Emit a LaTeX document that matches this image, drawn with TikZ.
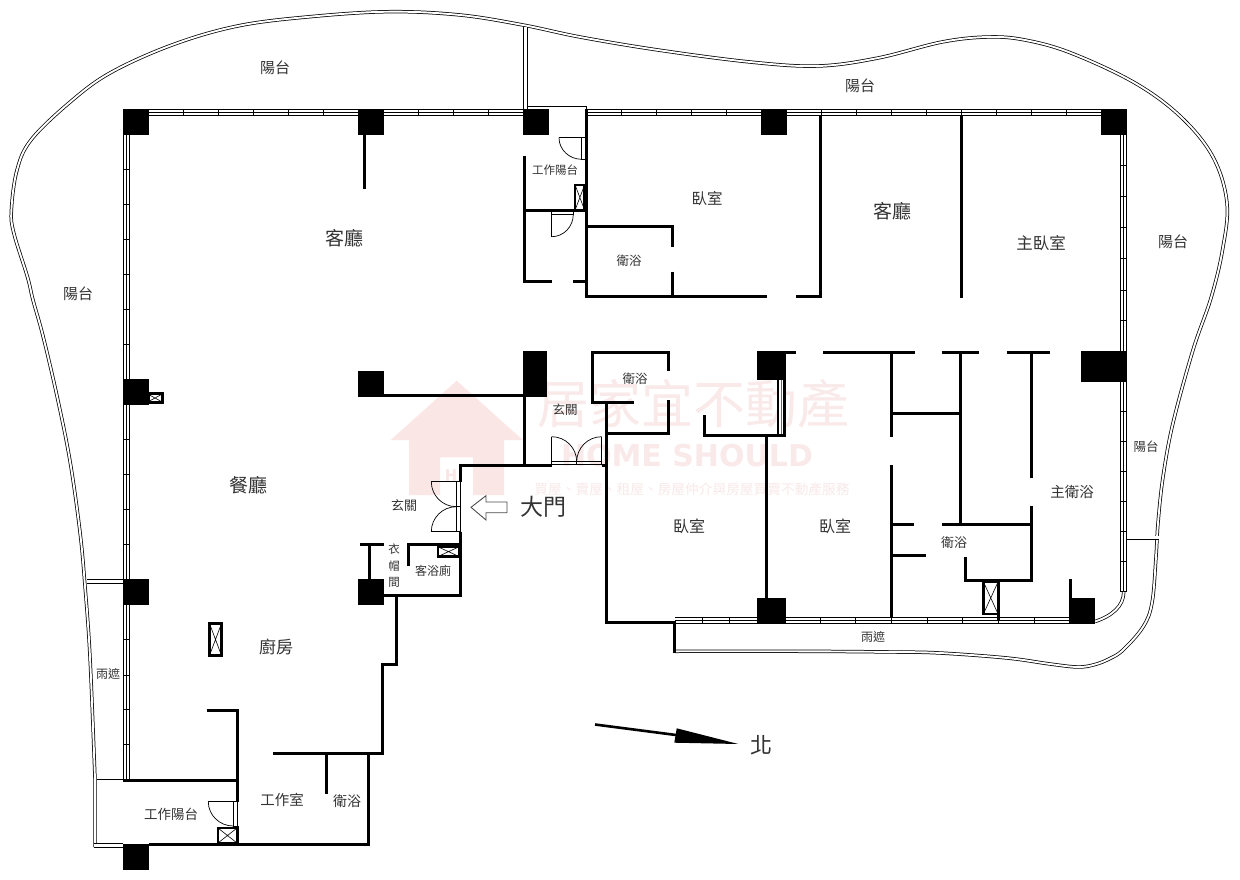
\documentclass[tikz,border=0pt]{standalone}
\usepackage{fontspec}
\setmainfont{Noto Sans CJK TC}
\newfontfamily\latinfont{DejaVu Sans}
\usetikzlibrary{calc}
\definecolor{wm}{HTML}{FBE6E6}
\definecolor{wmt}{HTML}{F9E9E9}
\definecolor{ink}{HTML}{333333}
\tikzset{
  wall/.style={line width=3pt,line cap=butt,line join=miter,black},
  thin/.style={line width=.8pt,black},
  rail/.style={preaction={draw=black,line width=3.4pt},draw=white,line width=1.9pt},
  railwide/.style={preaction={draw=black,line width=4.4pt},draw=white,line width=3pt},
  lab/.style={text=ink,inner sep=0pt,align=center},
  col/.style={fill=black,draw=none},
  shaft/.style={draw=black,line width=2.4pt,fill=white},
  doorline/.style={line width=.7pt,black},
}
\newcommand{\hwin}[3]{\draw[thin] (#1,#3)--(#2,#3) (#1,#3+3)--(#2,#3+3) (#1,#3+6)--(#2,#3+6);}
\newcommand{\vwin}[3]{\draw[thin] (#3,#1)--(#3,#2) (#3+3,#1)--(#3+3,#2) (#3+6,#1)--(#3+6,#2);}
\newcommand{\doorarc}[3]{\draw[doorline] (#1) .. controls ($(#1)!0.552!(#3)$) and ($(#2)!0.552!(#3)$) .. (#2);}
\begin{document}
\begin{tikzpicture}[x=1pt,y=-1pt]
\useasboundingbox (0,0) rectangle (1240,880);
\fill[white] (0,0) rectangle (1240,880);
% watermark
\fill[wm] (456.7,380.7)--(522.7,440)--(504,440)--(504,495)--(473,495)--(473,457.3)--(440,457.3)--(440,495)--(409,495)--(409,440)--(390.7,440)--cycle;
\node[text=wm,inner sep=0pt,font=\bfseries\fontsize{16}{16}\selectfont] (wmh) at (451,476) {H};
\node[text=wmt,inner sep=0pt,font=\fontsize{52}{52}\selectfont] (wm1) at (693,404) {居家宜不動產};
\node[text=wmt,inner sep=0pt,font=\latinfont\bfseries\fontsize{30}{30}\selectfont] (wm2) at (687,456) {HOME SHOULD};
\node[text=wmt,inner sep=0pt,font=\fontsize{13.7}{14}\selectfont] (wm3) at (692,489) {買屋、賣屋、租屋、房屋仲介與房屋買賣不動產服務};
% outer balcony rail
\draw[rail,line join=round] (95,847)--(95,779) plot[smooth,tension=.6] coordinates {(95,779)(90,657)(85,586)(80,532)(70,461)(57,396)(43,336)(33,300)(27.5,277)(13.8,233)(11.4,210)(17,170)(31,140)(69,103)(110,73)(172,45)(237.6,26)(310,16.7)(389,11.7)(460,15)(523,25)(580,37)(658,50)(750,62)(818,66)(878,58)(942,42)(988,37)(1025,40)(1071,53)(1135,83)(1181,117)(1213,157)(1227,203)(1222.5,250)(1211,298)(1193,350)(1173,423)(1163,477)(1158,523)(1156,557)(1152,603)(1143,627)(1123,650)(1110,658.5)(1095,664.5)(1078,667)(1050,664)(1007,658)(940,653)(893,652)(800,651.3)(675,651.3)};
% balcony dividers
\draw[railwide] (525.3,27)--(525.3,109);
\draw[thin] (527.5,106.7)--(586,106.7)--(586,110);
\draw[railwide] (87,581.5)--(123,581.5);
\draw[railwide] (97,781)--(123,781);
\draw[railwide] (93.5,845.5)--(123,845.5);
\draw[railwide] (1127,537.7)--(1158.5,537.7);
% windows
\hwin{149}{358}{109.3}
\hwin{384}{523}{109.3}
\hwin{586}{761}{109.3}
\hwin{787}{1101}{109.3}
\foreach \x in {183.3,218.4,253.5,288.6,323.7,418.7,453.5,488.3,621,656.4,691.3,726.6,821.6,856.5,891.4,926.3,961.2,996.6,1031.5,1066.4}{\draw[thin] (\x,109.3)--(\x,115.3);}
\vwin{135}{379}{123.3}
\vwin{405}{579}{123.3}
\vwin{605}{780}{123.3}
\foreach \y in {169.3,204.3,239.3,274.3,309.3,344.3,439.3,474.3,509.3,544.3,639.3,675,709.5,744.5}{\draw[thin] (123.3,\y)--(129.3,\y);}
\vwin{135}{351}{1120.7}
\vwin{381}{591.7}{1120.7}
\draw[thin] (1120.7,591.7)--(1126.7,591.7);
\foreach \y in {165,196.7,227.7,258.3,290,320.7,411.3,441.3,471.3,501.3,531.3,561.3}{\draw[thin] (1120.7,\y)--(1126.7,\y);}
\hwin{675}{757}{617.3}
\hwin{786}{1069}{617.3}
\foreach \x in {702.7,729.7,820,855.3,891,927.3,962.7,998,1034.3}{\draw[thin] (\x,617.3)--(\x,623.3);}
\draw[rail] (1095,621.5) .. controls (1112,616) and (1123.7,606) .. (1123.7,592);
% columns
\foreach \a/\b/\c/\d in {123/109/149/135,358/109/384/135,523/109/549/135,761/109/787/135,1101/109/1127/135,123/379/149/405,358/371/384/397,523/351/547/397,757/351/786/380,1081/351/1127/382,123/579/149/605,358/579/384/605,123/844/149/870,757/598/786/624,1069/598/1095/624}{\fill[col] (\a,\b) rectangle (\c,\d);}
% walls
\draw[wall] (364.5,135)--(364.5,189);
\draw[wall] (586,109)--(586,298) (584.5,296.7)--(767,296.7);
\draw[wall] (796,296.7)--(820.5,296.7) (820.5,298)--(820.5,115);
\draw[wall] (961,115)--(961,298);
\draw[wall] (586,226)--(672.7,226)--(672.7,246.7) (672.7,271.7)--(672.7,296);
\draw[wall] (524.5,155.6)--(524.5,281.5)--(551.7,281.5) (573,281.5)--(586,281.5);
\draw[wall] (524.5,210)--(586,210);
\draw[wall] (384,395)--(523,395);
\draw[wall] (524.5,396)--(524.5,466);
\draw[wall] (460.5,481.7)--(460.5,465.7)--(552,465.7) (601.7,465.7)--(606,465.7);
\draw[wall] (460.5,531.7)--(460.5,595.5)--(384,595.5);
\draw[wall] (360,544.5)--(384,544.5) (369.5,544.5)--(369.5,579);
\draw[wall] (408.5,565.5)--(408.5,544.5)--(460,544.5);
\draw[wall] (396.5,596)--(396.5,664)--(382.7,664)--(382.7,753.3)--(273.3,753.3);
\draw[wall] (326.5,753)--(326.5,793.7);
\draw[wall] (368.3,753)--(368.3,844.3)--(149,844.3);
\draw[wall] (206.7,710.5)--(237.5,710.5)--(237.5,801.7);
\draw[wall] (237.5,826)--(237.5,844);
\draw[wall] (123,780.5)--(237.5,780.5);
\draw[wall] (606,402)--(606,622.3)--(675.5,622.3) (674,622)--(674,652.5);
\draw[wall] (633.7,402)--(592.3,402)--(592.3,352.3)--(668.5,352.3)--(668.5,371);
\draw[wall] (668.5,400)--(668.5,433.3)--(606,433.3);
\draw[wall] (704.3,415)--(704.3,435.7)--(786,435.7);
\draw[wall] (766.3,436)--(766.3,598);
\draw[wall] (785.7,352.3)--(796,352.3) (823.3,352.3)--(915,352.3) (941.7,352.3)--(979,352.3) (1006.7,352.3)--(1050,352.3);
\draw[wall] (891.3,352)--(891.3,436.7) (891.3,465)--(891.3,618);
\draw[wall] (891,413)--(960.3,413);
\draw[wall] (960.3,352)--(960.3,524);
\draw[wall] (1031.7,352)--(1031.7,477.7) (1031.7,506)--(1031.7,581.5);
\draw[wall] (891,524.3)--(913.7,524.3) (942,524.3)--(1031.7,524.3);
\draw[wall] (891,555.3)--(926.3,555.3);
\draw[wall] (965.3,556.7)--(965.3,580)--(1033,580);
\draw[wall] (998.3,580)--(998.3,620);
\draw[wall] (1070.3,579.3)--(1070.3,598);
% strip window at bedroom column
\fill[black] (776.7,380) rectangle (786,436);
\fill[white] (779.3,380) rectangle (782.5,434);
\draw[line width=.6pt,black!60] (781,380)--(781,434);
% shafts
\foreach \a/\b/\c/\d in {575.2/185.2/584.5/209.8,209.5/623.5/221.5/655.5,218/828/237/843,438/546.8/459/556.5,983.5/582/998/613.8}{
  \draw[shaft] (\a,\b) rectangle (\c,\d);
  \draw[line width=.6pt] (\a,\b)--(\c,\d) (\a,\d)--(\c,\b);
}
\fill[black] (149,392) rectangle (164,404);
\fill[white] (149.5,395) rectangle (160.5,401);
\draw[line width=.6pt] (149.5,395)--(160.5,401) (149.5,401)--(160.5,395);
% doors
\draw[doorline] (581.7,137.7) rectangle (586,159.3) (559,137.7)--(581.7,137.7);
\doorarc{559,137.7}{581.7,159.3}{559,159.3}
\draw[doorline,fill=white] (551.7,211.5) rectangle (573.3,214.3);
\draw[doorline] (551.7,214.3)--(551.7,236.7);
\doorarc{573.3,214.3}{551.7,236.7}{573.3,236.7}
\draw[doorline] (551.7,461.7) rectangle (601.7,464.2) (576.7,461.7)--(576.7,464.2) (551.7,436.7)--(551.7,461.7) (601.7,436.7)--(601.7,461.7);
\doorarc{551.7,436.7}{576.7,461.7}{576.7,436.7}
\doorarc{601.7,436.7}{576.7,461.7}{576.7,436.7}
\draw[doorline] (456.3,481.7) rectangle (460.7,531.7) (456.3,506.7)--(460.7,506.7) (431.3,481.7)--(456.3,481.7) (431.3,531.7)--(456.3,531.7);
\doorarc{431.3,481.7}{456.3,506.7}{431.3,506.7}
\doorarc{431.3,531.7}{456.3,506.7}{431.3,506.7}
\draw[doorline] (233.3,801.7) rectangle (237.7,826) (208.3,801.7)--(233.3,801.7);
\doorarc{208.3,801.7}{233.3,826}{208.3,826}
% entry arrow
\draw[line width=.9pt,black!70,line join=miter] (471,507.3)--(486,495.7)--(486,502)--(507,502)--(507,512.7)--(486,512.7)--(486,520)--cycle;
% north arrow
\coordinate (nstart) at (595,724.5);
\coordinate (ntip) at (738.3,744);
\draw[line width=2.6pt] (nstart)--(676,735);
\fill[black] (676.7,728.3)--(ntip)--(674.3,742.7)--cycle;
% labels
\node[lab,font=\fontsize{23}{23}\selectfont] (dm) at (543,507) {大門};
\node[lab,font=\fontsize{22}{22}\selectfont] (bei) at (761,745) {北};
\node[lab,font=\fontsize{15}{15}\selectfont] (t1) at (275,68) {陽台};
\node[lab,font=\fontsize{15}{15}\selectfont] (t2) at (860,86) {陽台};
\node[lab,font=\fontsize{15}{15}\selectfont] (t3) at (78,294) {陽台};
\node[lab,font=\fontsize{15}{15}\selectfont] (t4) at (1173,242) {陽台};
\node[lab,font=\fontsize{12.5}{13}\selectfont] (t5) at (1146,447) {陽台};
\node[lab,font=\fontsize{19}{19}\selectfont] (t6) at (344,238) {客廳};
\node[lab,font=\fontsize{19}{19}\selectfont] (t7) at (892,211) {客廳};
\node[lab,font=\fontsize{15.5}{16}\selectfont] (t8) at (707,199) {臥室};
\node[lab,font=\fontsize{16.5}{17}\selectfont] (t9) at (1041,243) {主臥室};
\node[lab,font=\fontsize{12.5}{13}\selectfont] (t10) at (629,261) {衛浴};
\node[lab,font=\fontsize{11.5}{12}\selectfont] (t11) at (555,170) {工作陽台};
\node[lab,font=\fontsize{12.5}{13}\selectfont] (t12) at (635,379) {衛浴};
\node[lab,font=\fontsize{12.5}{13}\selectfont] (t13) at (565,410) {玄關};
\node[lab,font=\fontsize{13}{13}\selectfont] (t14) at (404,506) {玄關};
\node[lab,font=\fontsize{19}{19}\selectfont] (t15) at (248,485) {餐廳};
\node[lab,font=\fontsize{17}{17}\selectfont] (t16) at (276,647) {廚房};
\node[lab,font=\fontsize{16}{16}\selectfont] (t17) at (689,526) {臥室};
\node[lab,font=\fontsize{16}{16}\selectfont] (t18) at (835,526) {臥室};
\node[lab,font=\fontsize{14.5}{15}\selectfont] (t19) at (1072,492) {主衛浴};
\node[lab,font=\fontsize{13}{13}\selectfont] (t20) at (954,543) {衛浴};
\node[lab,font=\fontsize{12}{12}\selectfont] (t21) at (873,637) {雨遮};
\node[lab,font=\fontsize{12}{12}\selectfont] (t22) at (108,674) {雨遮};
\node[lab,font=\fontsize{13.5}{14}\selectfont] (t23) at (171,814) {工作陽台};
\node[lab,font=\fontsize{14.5}{15}\selectfont] (t24) at (282,800) {工作室};
\node[lab,font=\fontsize{14}{14}\selectfont] (t25) at (347,801) {衛浴};
\node[lab,font=\fontsize{12}{12}\selectfont] (t26) at (433,571) {客浴廁};
\node[lab,font=\fontsize{11.5}{16.5}\selectfont] (t27) at (394,566) {衣\\帽\\間};
\end{tikzpicture}
\end{document}
